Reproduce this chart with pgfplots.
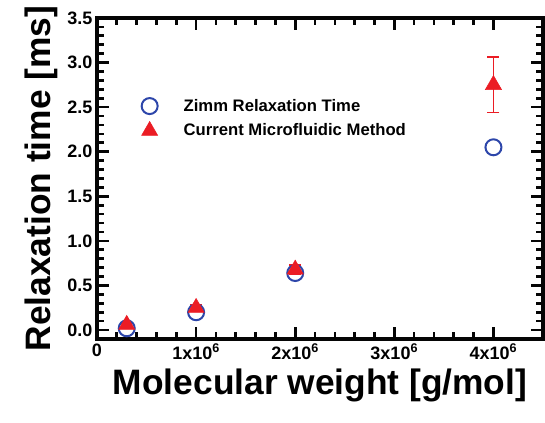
\documentclass[border=0pt]{standalone}
\usepackage{pgfplots}
\pgfplotsset{compat=1.18}
\usepackage{fontspec}
\setmainfont{Liberation Sans}
\definecolor{zblue}{RGB}{45,70,170}
\definecolor{mred}{RGB}{235,28,36}
\definecolor{axk}{RGB}{5,5,5}
\begin{document}
\begin{tikzpicture}
\begin{axis}[
  name=frame,
  scale only axis,
  width=334.5pt, height=240.75pt,
  xmin=0, xmax=4.5e6, ymin=-0.1, ymax=3.5,
  axis line style={line width=2.6pt, axk},
  tick style={line width=2pt, axk},
  tick align=inside,
  major tick length=9pt, minor tick length=5pt,
  xtick={0,1e6,2e6,3e6,4e6},
  xticklabels={0,1x10\textsuperscript{6},2x10\textsuperscript{6},3x10\textsuperscript{6},4x10\textsuperscript{6}},
  minor x tick num=4,
  scaled x ticks=false,
  ytick={0,0.5,...,3.5},
  minor y tick num=4,
  yticklabel style={/pgf/number format/.cd,fixed,fixed zerofill,precision=1},
  /pgf/number format/assume math mode=true,
  ticklabel style={font=\fontsize{13.5}{15}\selectfont\bfseries},
  xlabel={Molecular weight [g/mol]},
  ylabel={Relaxation time [ms]},
  xlabel style={font=\fontsize{26.5}{30}\selectfont\bfseries},
  ylabel style={font=\fontsize{26.5}{30}\selectfont\bfseries},
]
\addplot[draw=none, mark=none] coordinates {(0,0) (4e6,3)};
\end{axis}
\begin{axis}[
  scale only axis,
  width=334.5pt, height=240.75pt,
  xmin=0, xmax=4.5e6, ymin=-0.1, ymax=3.5,
  hide axis,
  clip=false,
  legend style={draw=none, fill=none, at={(0.085,0.765)}, anchor=north west,
    font=\fontsize{12.5}{14}\selectfont\bfseries, row sep=4pt},
  legend cell align=left,
  legend image code/.code={\draw[#1] plot coordinates {(0.25cm,0cm)}; \path (0,0) (1.05cm,0);},
]
\addplot[only marks, mark=o, mark size=6pt, draw=zblue, line width=1.5pt]
  coordinates {(3e5,0.02) (1e6,0.2) (2e6,0.64) (4e6,2.05)};
\addlegendentry{Zimm Relaxation Time}
\addplot[only marks, mark=triangle*, mark size=7pt, color=mred,
  error bars/.cd, y dir=both, y explicit,
  error bar style={line width=1.2pt, color=mred},
  error mark options={rotate=90, mark size=4.5pt, line width=1.2pt, color=mred}]
  coordinates {(3e5,0.06) +- (0,0.02) (1e6,0.25) +- (0,0.03) (2e6,0.68) +- (0,0.05) (4e6,2.75) +- (0,0.31)};
\addlegendentry{Current Microfluidic Method}
\end{axis}
\path (frame.south west) ++(-72.75pt,-63pt) coordinate (bl);
\path (frame.north east) ++(1.5pt,13.5pt) coordinate (tr);
\path (bl) (tr);
\end{tikzpicture}
\end{document}
